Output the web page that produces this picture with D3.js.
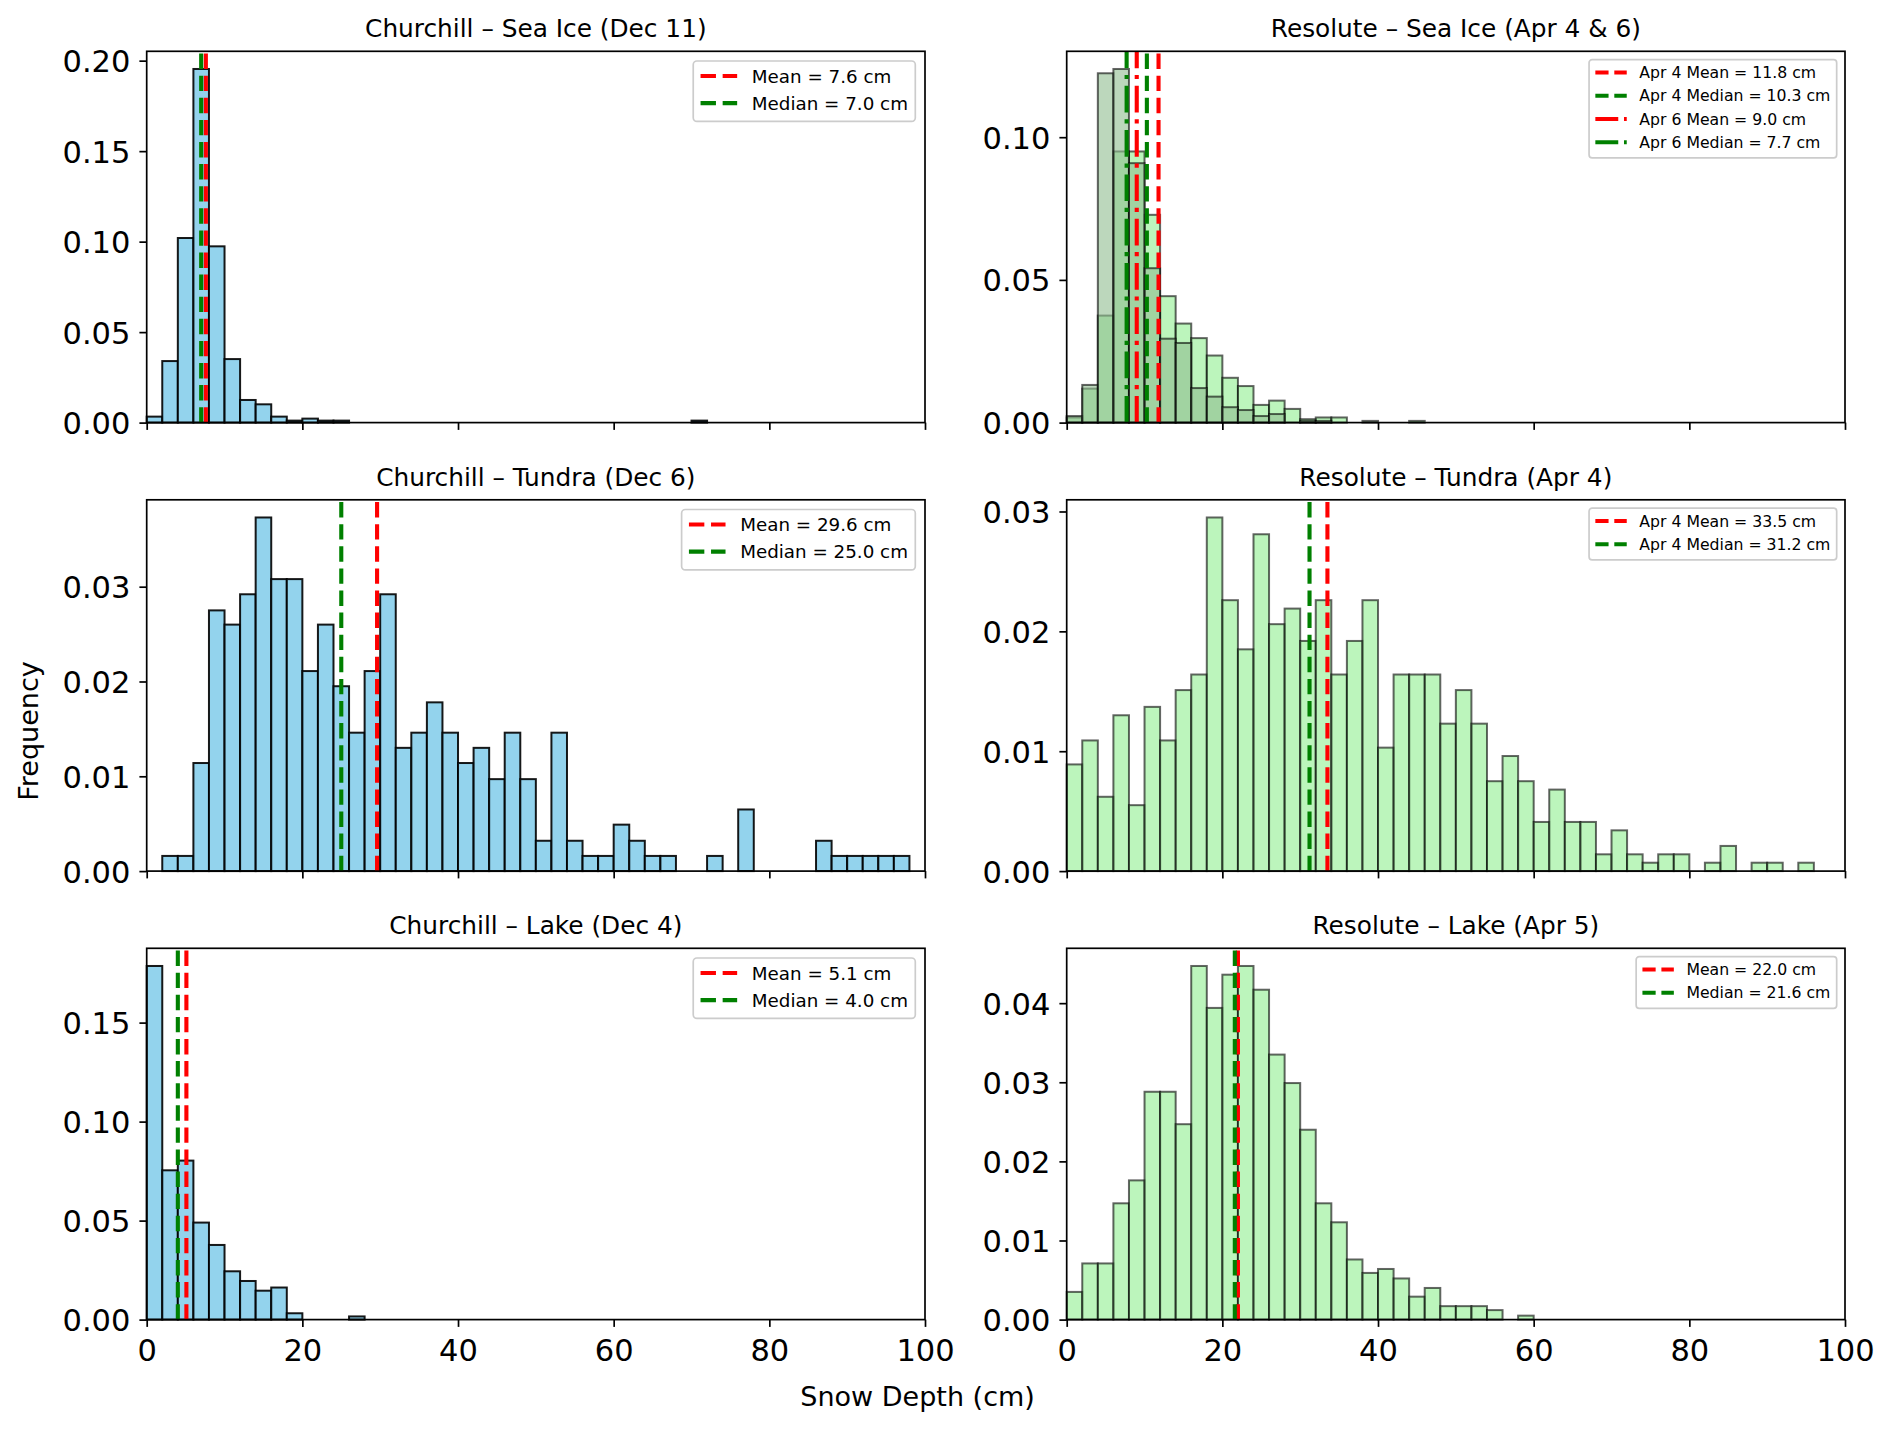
<!DOCTYPE html>
<html>
<head>
<meta charset="utf-8">
<script src="https://cdn.jsdelivr.net/npm/d3@7"></script>
<style>
  body { margin: 0; background: #fff; }
  svg { display: block; font-family: "DejaVu Sans", sans-serif; }
</style>
</head>
<body>
<svg id="chart" width="1892" height="1431"></svg>
<script>
// x axis shared by all panels
const xTicks = [0, 20, 40, 60, 80, 100];
const binWidth = 2; // cm

// Churchill histograms (density per 2 cm bin)
const churchillSeaIceStart = 0;
const churchillSeaIce = [0.0033, 0.0340, 0.1020, 0.1954, 0.0974, 0.0351, 0.0125, 0.0101, 0.0033, 0.0011,
  0.0022, 0.0011, 0.0011, 0, 0, 0, 0, 0, 0, 0,
  0, 0, 0, 0, 0, 0, 0, 0, 0, 0,
  0, 0, 0, 0, 0, 0.0011];
const churchillTundraStart = 2;
const churchillTundra = [0.0016, 0.0016, 0.0114, 0.0275, 0.0260, 0.0292, 0.0373, 0.0308, 0.0308, 0.0211,
  0.0260, 0.0195, 0.0146, 0.0211, 0.0292, 0.0130, 0.0146, 0.0178, 0.0146, 0.0114,
  0.0130, 0.0097, 0.0146, 0.0097, 0.0032, 0.0146, 0.0032, 0.0016, 0.0016, 0.0049,
  0.0032, 0.0016, 0.0016, 0, 0, 0.0016, 0, 0.0065, 0, 0,
  0, 0, 0.0032, 0.0016, 0.0016, 0.0016, 0.0016, 0.0016];
const churchillLakeStart = 0;
const churchillLake = [0.1786, 0.0754, 0.0803, 0.0490, 0.0377, 0.0244, 0.0195, 0.0146, 0.0162, 0.0032,
  0, 0, 0, 0.0016];

// Resolute histograms
const resoluteSeaIceApr4 = [0.0018, 0.0119, 0.0375, 0.0950, 0.0950, 0.0728, 0.0443, 0.0347, 0.0296, 0.0235,
  0.0157, 0.0128, 0.0062, 0.0077, 0.0048, 0.0012, 0.0018, 0.0018, 0, 0,
  0, 0, 0.0006];
const resoluteSeaIceApr6 = [0.0023, 0.0132, 0.1224, 0.1239, 0.0909, 0.0541, 0.0294, 0.0279, 0.0121, 0.0091,
  0.0054, 0.0044, 0.0023, 0.0030, 0, 0.0006, 0.0006, 0, 0, 0.0006];
const resoluteTundra = [0.0089, 0.0109, 0.0062, 0.0130, 0.0055, 0.0137, 0.0109, 0.0151, 0.0164, 0.0295,
  0.0226, 0.0185, 0.0281, 0.0206, 0.0219, 0.0192, 0.0226, 0.0164, 0.0192, 0.0226,
  0.0103, 0.0164, 0.0164, 0.0164, 0.0123, 0.0151, 0.0123, 0.0075, 0.0096, 0.0075,
  0.0041, 0.0068, 0.0041, 0.0041, 0.0014, 0.0034, 0.0014, 0.0007, 0.0014, 0.0014,
  0, 0.0007, 0.0021, 0, 0.0007, 0.0007, 0, 0.0007];
const resoluteLake = [0.0035, 0.0071, 0.0071, 0.0147, 0.0176, 0.0288, 0.0288, 0.0247, 0.0447, 0.0394,
  0.0436, 0.0447, 0.0417, 0.0335, 0.0299, 0.0240, 0.0147, 0.0123, 0.0076, 0.0059,
  0.0064, 0.0052, 0.0029, 0.0040, 0.0017, 0.0017, 0.0017, 0.0012, 0, 0.0005];

// summary stats (cm)
const churchillMeans = [7.6, 29.6, 5.1];
const churchillMedians = [7.0, 25.0, 4.0];
const resoluteMeans = [11.8, 33.5, 22.0];
const resoluteMedians = [10.3, 31.2, 21.6];
const resoluteApr6Mean = 9.0;
const resoluteApr6Median = 7.7;

const churchillTitles = ["Churchill \u2013 Sea Ice (Dec 11)", "Churchill \u2013 Tundra (Dec 6)", "Churchill \u2013 Lake (Dec 4)"];
const resoluteTitles = ["Resolute \u2013 Sea Ice (Apr 4 & 6)", "Resolute \u2013 Tundra (Apr 4)", "Resolute \u2013 Lake (Apr 5)"];

const churchillYTicks = [[0, 0.05, 0.10, 0.15, 0.20], [0, 0.01, 0.02, 0.03], [0, 0.05, 0.10, 0.15]];
const resoluteYTicks = [[0, 0.05, 0.10], [0, 0.01, 0.02, 0.03], [0, 0.01, 0.02, 0.03, 0.04]];

// layout
const colX = [146.7, 1066.7];
const rowY = [51.3, 499.8, 948.3];
const W = 778.3, H = 371.3;
const lw = 4.1;
const tickFont = 30.5;
const dashes = { dashed: [15.4, 6.7], dashdot: [26.7, 6.7, 4.2, 6.7] };
const fmt1 = d3.format(".1f");

const blueStyle = { fill: "skyblue", alpha: 0.9 };
const greenStyle = { fill: "lightgreen", alpha: 0.6 };
const apr6Style = { fill: "darkseagreen", alpha: 0.6 };

const churchillHists = [
  [{ start: churchillSeaIceStart, values: churchillSeaIce }],
  [{ start: churchillTundraStart, values: churchillTundra }],
  [{ start: churchillLakeStart, values: churchillLake }]
];

const panels = [];
churchillTitles.forEach((t, i) => {
  panels.push({
    title: t, col: 0, row: i, yTicks: churchillYTicks[i], legendFont: 18.3,
    hists: churchillHists[i].map(h => ({ ...h, ...blueStyle })),
    lines: [
      { value: churchillMeans[i], color: "red", dash: "dashed", label: `Mean = ${fmt1(churchillMeans[i])} cm` },
      { value: churchillMedians[i], color: "green", dash: "dashed", label: `Median = ${fmt1(churchillMedians[i])} cm` }
    ]
  });
});
panels.push({
  title: resoluteTitles[0], col: 1, row: 0, yTicks: resoluteYTicks[0], legendFont: 15.7,
  hists: [{ start: 0, values: resoluteSeaIceApr4, ...greenStyle }, { start: 0, values: resoluteSeaIceApr6, ...apr6Style }],
  lines: [
    { value: resoluteMeans[0], color: "red", dash: "dashed", label: `Apr 4 Mean = ${fmt1(resoluteMeans[0])} cm` },
    { value: resoluteMedians[0], color: "green", dash: "dashed", label: `Apr 4 Median = ${fmt1(resoluteMedians[0])} cm` },
    { value: resoluteApr6Mean, color: "red", dash: "dashdot", label: `Apr 6 Mean = ${fmt1(resoluteApr6Mean)} cm` },
    { value: resoluteApr6Median, color: "green", dash: "dashdot", label: `Apr 6 Median = ${fmt1(resoluteApr6Median)} cm` }
  ]
});
panels.push({
  title: resoluteTitles[1], col: 1, row: 1, yTicks: resoluteYTicks[1], legendFont: 15.7,
  hists: [{ start: 0, values: resoluteTundra, ...greenStyle }],
  lines: [
    { value: resoluteMeans[1], color: "red", dash: "dashed", label: `Apr 4 Mean = ${fmt1(resoluteMeans[1])} cm` },
    { value: resoluteMedians[1], color: "green", dash: "dashed", label: `Apr 4 Median = ${fmt1(resoluteMedians[1])} cm` }
  ]
});
panels.push({
  title: resoluteTitles[2], col: 1, row: 2, yTicks: resoluteYTicks[2], legendFont: 15.7,
  hists: [{ start: 0, values: resoluteLake, ...greenStyle }],
  lines: [
    { value: resoluteMeans[2], color: "red", dash: "dashed", label: `Mean = ${fmt1(resoluteMeans[2])} cm` },
    { value: resoluteMedians[2], color: "green", dash: "dashed", label: `Median = ${fmt1(resoluteMedians[2])} cm` }
  ]
});

const svg = d3.select("#chart");
svg.append("rect").attr("width", 1892).attr("height", 1431).attr("fill", "white");

panels.forEach(drawPanel);

// shared axis labels
svg.append("text")
  .attr("transform", "translate(38,731) rotate(-90)")
  .attr("text-anchor", "middle")
  .attr("font-size", 27)
  .text("Frequency");
svg.append("text")
  .attr("x", 917.6).attr("y", 1405.7)
  .attr("text-anchor", "middle")
  .attr("font-size", 27)
  .text("Snow Depth (cm)");

function drawPanel(p) {
  const g = svg.append("g").attr("transform", `translate(${colX[p.col]},${rowY[p.row]})`);
  const x = d3.scaleLinear().domain([0, 100]).range([0, W]);
  const yMax = d3.max(p.hists, h => d3.max(h.values)) * 1.05;
  const y = d3.scaleLinear().domain([0, yMax]).range([H, 0]);

  // histogram bars
  p.hists.forEach(h => {
    const bins = h.values
      .map((v, i) => ({ x0: h.start + i * binWidth, x1: h.start + (i + 1) * binWidth, v }))
      .filter(b => b.v > 0);
    g.append("g").selectAll("rect")
      .data(bins)
      .join("rect")
      .attr("x", d => x(d.x0))
      .attr("width", d => x(d.x1) - x(d.x0))
      .attr("y", d => y(d.v))
      .attr("height", d => y(0) - y(d.v))
      .attr("fill", h.fill)
      .attr("fill-opacity", h.alpha)
      .attr("stroke", "black")
      .attr("stroke-opacity", h.alpha)
      .attr("stroke-width", 2);
  });

  // mean / median lines, drawn bottom to top so dashes start at the axis
  g.append("g").selectAll("line")
    .data(p.lines)
    .join("line")
    .attr("x1", d => x(d.value)).attr("x2", d => x(d.value))
    .attr("y1", H).attr("y2", 0)
    .attr("stroke", d => d.color)
    .attr("stroke-width", lw)
    .attr("stroke-dasharray", d => dashes[d.dash].join(" "));

  // spines
  g.append("rect")
    .attr("width", W).attr("height", H)
    .attr("fill", "none").attr("stroke", "black").attr("stroke-width", 1.7);

  // y axis
  const yAxis = g.append("g")
    .call(d3.axisLeft(y).tickValues(p.yTicks).tickFormat(d3.format(".2f"))
      .tickSize(7.3).tickPadding(9).tickSizeOuter(0));
  yAxis.select(".domain").remove();
  yAxis.attr("font-size", tickFont).attr("font-family", "DejaVu Sans, sans-serif");
  yAxis.selectAll(".tick line").attr("stroke-width", 1.7);
  yAxis.selectAll("text").attr("dy", "0.36em").attr("fill", "black");

  // x axis (labels only on bottom row)
  const xAxis = g.append("g").attr("transform", `translate(0,${H})`)
    .call(d3.axisBottom(x).tickValues(xTicks)
      .tickFormat(p.row === 2 ? d3.format("d") : () => "")
      .tickSize(7.3).tickPadding(12).tickSizeOuter(0));
  xAxis.select(".domain").remove();
  xAxis.attr("font-size", tickFont).attr("font-family", "DejaVu Sans, sans-serif");
  xAxis.selectAll(".tick line").attr("stroke-width", 1.7);
  xAxis.selectAll("text").attr("fill", "black");

  // title
  g.append("text")
    .attr("x", W / 2).attr("y", -14)
    .attr("text-anchor", "middle")
    .attr("font-size", 24.8)
    .text(p.title);

  // legend
  const fs = p.legendFont;
  const rowH = 1.48 * fs;
  const lg = g.append("g");
  const frame = lg.append("rect");
  const labels = lg.selectAll("text")
    .data(p.lines)
    .join("text")
    .attr("font-size", fs)
    .text(d => d.label);
  let maxLen = 0;
  labels.each(function () { maxLen = Math.max(maxLen, this.getComputedTextLength()); });
  const boxW = fs * 3.6 + maxLen;
  const boxH = fs * (0.82 + 1.0) + (p.lines.length - 1) * rowH;
  const bx = W - 0.53 * fs - boxW;
  const by = 0.53 * fs;
  frame.attr("x", bx).attr("y", by).attr("width", boxW).attr("height", boxH)
    .attr("rx", 0.2 * fs)
    .attr("fill", "white").attr("fill-opacity", 0.8)
    .attr("stroke", "#cccccc").attr("stroke-width", 1.7);
  const rowC = i => by + 0.82 * fs + i * rowH;
  labels.attr("x", bx + 3.2 * fs).attr("y", (d, i) => rowC(i) + 0.36 * fs);
  const scale = fs / 18.3;
  lg.selectAll("line")
    .data(p.lines)
    .join("line")
    .attr("x1", bx + 0.4 * fs).attr("x2", bx + 2.4 * fs)
    .attr("y1", (d, i) => rowC(i)).attr("y2", (d, i) => rowC(i))
    .attr("stroke", d => d.color)
    .attr("stroke-width", lw)
    .attr("stroke-dasharray", d => dashes[d.dash].map(v => v * scale).join(" "));
}
</script>
</body>
</html>
